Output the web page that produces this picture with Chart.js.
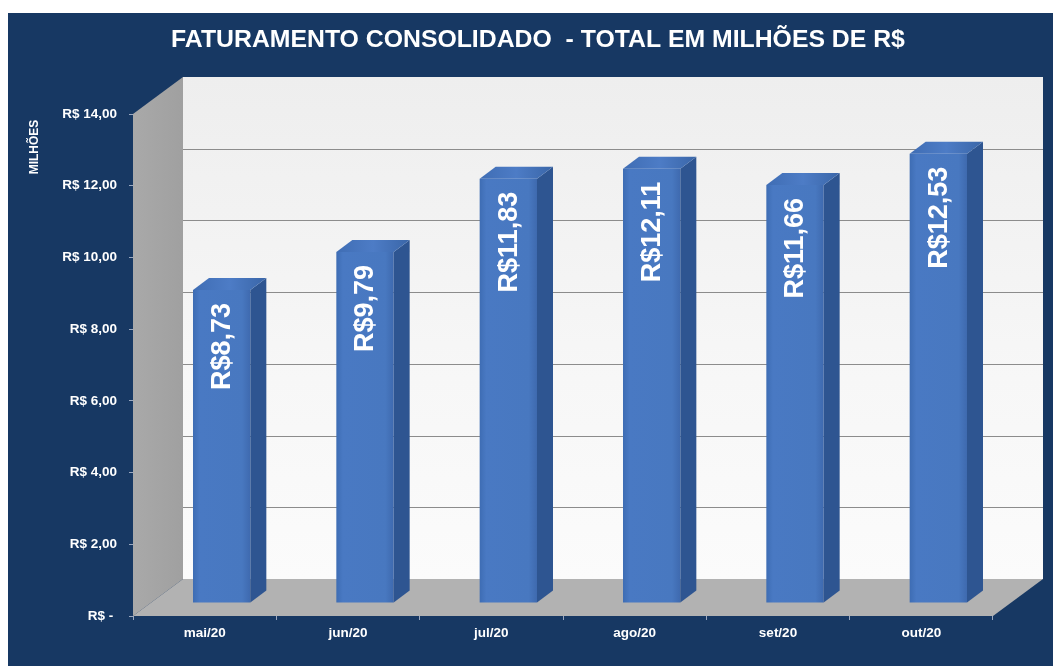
<!DOCTYPE html>
<html>
<head>
<meta charset="utf-8">
<script src="https://cdn.jsdelivr.net/npm/chart.js@4"></script>
<style>
  body { margin: 0; background: #ffffff; }
  canvas { display: block; }
</style>
</head>
<body>
<canvas id="faturamento" width="1059" height="666"></canvas>
<script>
// data (R$ millions)
const months = ["mai/20", "jun/20", "jul/20", "ago/20", "set/20", "out/20"];
const revenue = [8.73, 9.79, 11.83, 12.11, 11.66, 12.53];
const yTicks = [0, 2, 4, 6, 8, 10, 12, 14];

const NAVY = "#173863";
const WALL_DX = 50, WALL_DY = -37;   // back wall offset from the front plane
const BAR_DX = 17, BAR_DY = -13;     // bars sit in the middle of the depth
const SIDE_DX = 16, SIDE_DY = -12;   // bar depth
const FONT = "'Liberation Sans', Arial, sans-serif";

const fmtTick = (v) => v === 0 ? "R$ - " : "R$ " + v.toFixed(2).replace(".", ",");
const fmtValue = (v) => "R$" + v.toFixed(2).replace(".", ",");

const fakeThreeD = {
  id: "fakeThreeD",
  beforeDraw(chart) {
    const { ctx, chartArea: a, scales } = chart;
    ctx.save();
    // navy panel
    ctx.fillStyle = NAVY;
    ctx.fillRect(8, 13, 1045, 653);

    // back wall
    let g = ctx.createLinearGradient(0, a.top + WALL_DY, 0, a.bottom + WALL_DY);
    g.addColorStop(0, "#eeeeee");
    g.addColorStop(0.6, "#f7f7f7");
    g.addColorStop(1, "#fbfbfb");
    ctx.fillStyle = g;
    ctx.fillRect(a.left + WALL_DX, a.top + WALL_DY, a.right - a.left, a.bottom - a.top);

    // side wall
    g = ctx.createLinearGradient(a.left, 0, a.left + WALL_DX, 0);
    g.addColorStop(0, "#a9a9a9");
    g.addColorStop(1, "#a0a0a0");
    ctx.fillStyle = g;
    ctx.beginPath();
    ctx.moveTo(a.left, a.top);
    ctx.lineTo(a.left + WALL_DX, a.top + WALL_DY);
    ctx.lineTo(a.left + WALL_DX, a.bottom + WALL_DY);
    ctx.lineTo(a.left, a.bottom);
    ctx.closePath();
    ctx.fill();

    // floor
    ctx.fillStyle = "#b2b2b2";
    ctx.beginPath();
    ctx.moveTo(a.left, a.bottom);
    ctx.lineTo(a.left + WALL_DX, a.bottom + WALL_DY);
    ctx.lineTo(a.right + WALL_DX, a.bottom + WALL_DY);
    ctx.lineTo(a.right, a.bottom);
    ctx.closePath();
    ctx.fill();

    // gridlines on the back wall
    ctx.strokeStyle = "#8c8c8c";
    ctx.lineWidth = 1;
    yTicks.forEach((t) => {
      if (t === 0 || t === 14) return;
      const y = Math.round(scales.y.getPixelForValue(t) + WALL_DY) + 0.5;
      ctx.beginPath();
      ctx.moveTo(a.left + WALL_DX, y);
      ctx.lineTo(a.right + WALL_DX, y);
      ctx.stroke();
    });

    // title
    ctx.fillStyle = "#ffffff";
    ctx.font = "bold 24.8px " + FONT;
    ctx.textAlign = "center";
    ctx.textBaseline = "middle";
    ctx.fillText("FATURAMENTO CONSOLIDADO  - TOTAL EM MILHÕES DE R$", 538, 40);

    // axis title
    ctx.translate(35, 147);
    ctx.rotate(-Math.PI / 2);
    ctx.font = "bold 12px " + FONT;
    ctx.fillText("MILHÕES", 0, 0);
    ctx.restore();
  },
  beforeDatasetsDraw(chart) {
    chart.ctx.save();
    chart.ctx.translate(BAR_DX, BAR_DY);
  },
  afterDatasetsDraw(chart) {
    const ctx = chart.ctx;
    const meta = chart.getDatasetMeta(0);
    meta.data.forEach((bar, i) => {
      const half = bar.width / 2;
      const l = bar.x - half, r = bar.x + half, top = bar.y, base = bar.base;
      // right side
      ctx.fillStyle = "#2e5591";
      ctx.beginPath();
      ctx.moveTo(r, top);
      ctx.lineTo(r + SIDE_DX, top + SIDE_DY);
      ctx.lineTo(r + SIDE_DX, base + SIDE_DY);
      ctx.lineTo(r, base);
      ctx.closePath();
      ctx.fill();
      // top face
      const g = ctx.createLinearGradient(l, 0, r + SIDE_DX, 0);
      g.addColorStop(0, "#3f6db4");
      g.addColorStop(0.5, "#4d7cc6");
      g.addColorStop(1, "#3a66a8");
      ctx.fillStyle = g;
      ctx.beginPath();
      ctx.moveTo(l, top);
      ctx.lineTo(l + SIDE_DX, top + SIDE_DY);
      ctx.lineTo(r + SIDE_DX, top + SIDE_DY);
      ctx.lineTo(r, top);
      ctx.closePath();
      ctx.fill();

      // value label
      ctx.save();
      ctx.translate(bar.x, top + 13);
      ctx.rotate(-Math.PI / 2);
      ctx.fillStyle = "#ffffff";
      ctx.font = "bold 27px " + FONT;
      ctx.textAlign = "right";
      ctx.textBaseline = "middle";
      ctx.fillText(fmtValue(revenue[i]), 0, 1);
      ctx.restore();
    });
    ctx.restore();
  }
};

new Chart(document.getElementById("faturamento"), {
  type: "bar",
  plugins: [fakeThreeD],
  data: {
    labels: months,
    datasets: [{
      data: revenue,
      barPercentage: 0.4,
      categoryPercentage: 1,
      borderWidth: 0,
      backgroundColor: (c) => {
        const x = c.chart.scales.x;
        const cx = x && c.dataIndex !== undefined ? x.getPixelForValue(c.dataIndex) : NaN;
        if (!isFinite(cx)) return "#4878c0";
        const g = c.chart.ctx.createLinearGradient(cx - 29, 0, cx + 29, 0);
        g.addColorStop(0, "#3d6cb3");
        g.addColorStop(0.12, "#4979c3");
        g.addColorStop(0.85, "#4878c0");
        g.addColorStop(1, "#3e69ae");
        return g;
      }
    }]
  },
  options: {
    responsive: false,
    animation: false,
    layout: { padding: { top: 114, right: 66, left: 0, bottom: 0 } },
    plugins: {
      legend: { display: false },
      tooltip: { enabled: false },
      title: { display: false }
    },
    scales: {
      x: {
        grid: { drawOnChartArea: false, tickLength: 4, color: "#9aa8c0", offset: true },
        border: { display: false },
        ticks: { color: "#ffffff", padding: 5, font: { family: FONT, size: 13.5, weight: "bold" } },
        afterFit: (s) => { s.height = 50; }
      },
      y: {
        min: 0,
        max: 14,
        grid: { drawOnChartArea: false, tickLength: 4, color: "#9aa8c0" },
        border: { display: false },
        ticks: {
          stepSize: 2,
          color: "#ffffff",
          padding: 12,
          font: { family: FONT, size: 13.5, weight: "bold" },
          callback: (v) => fmtTick(v)
        },
        afterFit: (s) => { s.width = 133; }
      }
    }
  }
});
</script>
</body>
</html>
